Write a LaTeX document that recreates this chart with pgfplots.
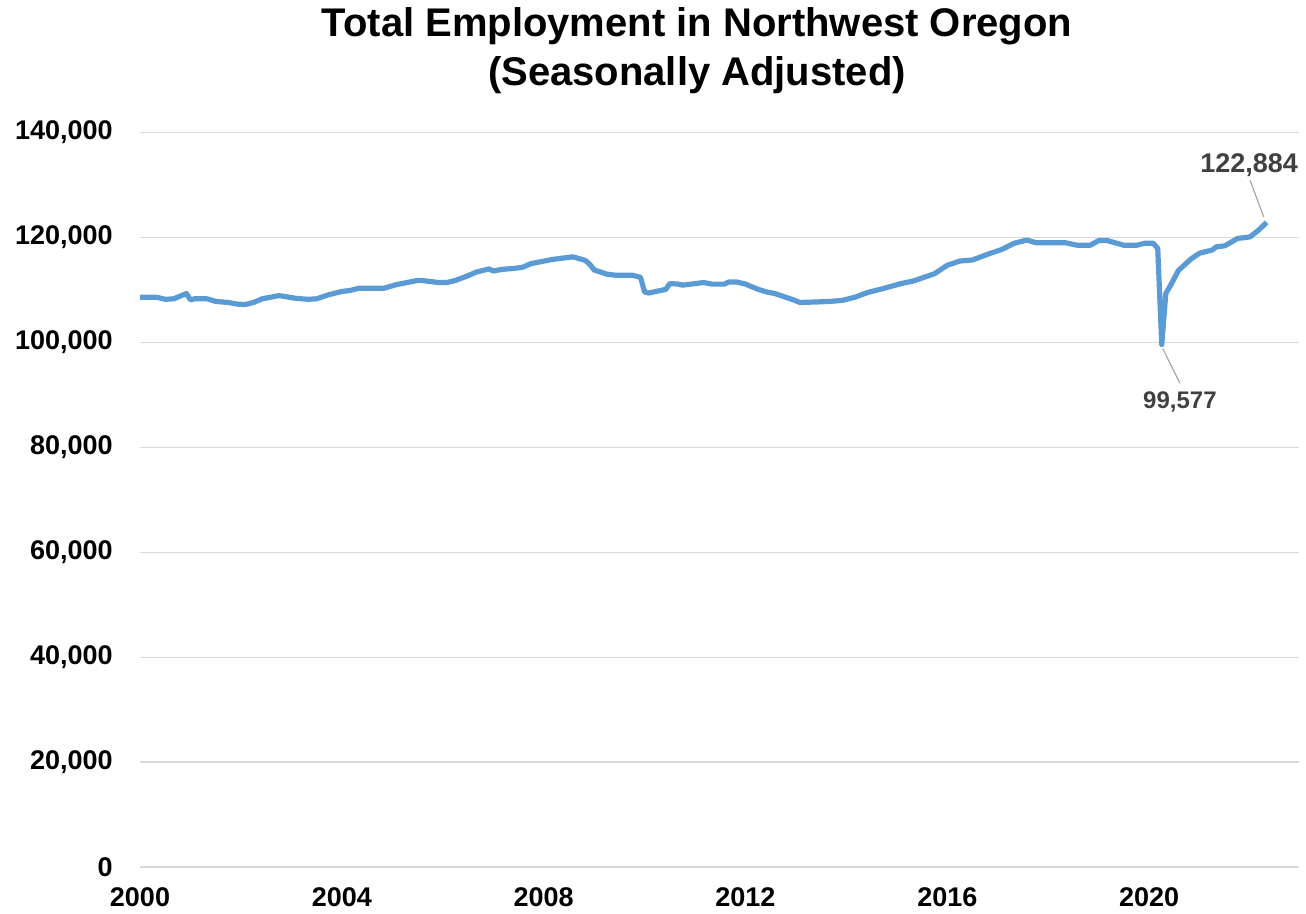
\documentclass[border=0pt]{standalone}
\usepackage{pgfplots}
\pgfplotsset{compat=1.18}
\usepackage{fontspec}
\setmainfont{Liberation Sans}
\definecolor{lineblue}{RGB}{91,155,213}
\definecolor{gridgray}{RGB}{217,217,217}
\definecolor{lblgray}{RGB}{64,64,64}
\pgfplotstableread{
x y
2000.00 108600
2000.33 108600
2000.50 108200
2000.67 108300
2000.92 109300
2001.00 108100
2001.08 108300
2001.33 108300
2001.50 107800
2001.75 107600
2001.92 107300
2002.08 107200
2002.25 107600
2002.42 108300
2002.75 108900
2002.83 108800
2003.08 108400
2003.33 108200
2003.50 108300
2003.75 109100
2004.00 109700
2004.17 109900
2004.33 110300
2004.83 110300
2005.08 111000
2005.50 111800
2005.58 111800
2005.92 111400
2006.08 111400
2006.25 111800
2006.50 112700
2006.67 113400
2006.92 114000
2007.00 113600
2007.17 113900
2007.42 114100
2007.58 114300
2007.75 115000
2008.17 115800
2008.58 116300
2008.83 115600
2008.92 114800
2009.00 113800
2009.25 113000
2009.42 112800
2009.75 112800
2009.92 112400
2010.00 109600
2010.08 109400
2010.42 110100
2010.50 111200
2010.67 111100
2010.75 110900
2010.92 111100
2011.17 111400
2011.33 111100
2011.58 111100
2011.67 111500
2011.83 111500
2012.00 111100
2012.25 110100
2012.42 109600
2012.58 109300
2012.92 108200
2013.08 107600
2013.42 107700
2013.67 107800
2013.92 108000
2014.17 108600
2014.42 109500
2014.75 110300
2015.08 111200
2015.33 111700
2015.75 113100
2016.00 114700
2016.25 115500
2016.50 115700
2016.83 116900
2017.08 117700
2017.33 118900
2017.58 119500
2017.75 119000
2018.33 119000
2018.58 118500
2018.83 118500
2019.00 119400
2019.17 119400
2019.50 118500
2019.75 118500
2019.92 118900
2020.08 118900
2020.17 117900
2020.25 99577
2020.33 109300
2020.42 110800
2020.58 113700
2020.83 115900
2021.00 117000
2021.25 117600
2021.33 118200
2021.50 118400
2021.75 119800
2021.92 120000
2022.00 120100
2022.17 121400
2022.33 122884
}\emp
\begin{document}
\begin{tikzpicture}
\useasboundingbox (0,0) rectangle (653pt,457pt);
\node[anchor=base, font=\fontsize{20}{24}\selectfont\bfseries] at (348.5pt,438.5pt) {Total Employment in Northwest Oregon};
\node[anchor=base, font=\fontsize{20}{24}\selectfont\bfseries] at (348.5pt,414pt) {(Seasonally Adjusted)};
\begin{axis}[
  at={(70pt,23.5pt)}, anchor=south west,
  scale only axis, width=579.5pt, height=367.25pt,
  xmin=2000, xmax=2022.97, ymin=0, ymax=140000,
  axis line style={draw=none},
  major tick length=0pt,
  xtick={2000,2004,2008,2012,2016,2020},
  xticklabels={2000,2004,2008,2012,2016,2020},
  ytick={0,20000,40000,60000,80000,100000,120000,140000},
  yticklabels={0,{20,000},{40,000},{60,000},{80,000},{100,000},{120,000},{140,000}},
  scaled y ticks=false,
  ymajorgrids, major grid style={gridgray, line width=0.6pt},
  ticklabel style={font=\fontsize{13.5}{16}\selectfont\bfseries, text=black},
  yticklabel style={anchor=east, inner sep=0pt, xshift=-13.5pt},
  xticklabel style={anchor=north, inner sep=0pt, yshift=-10pt},
  clip=false,
]
\addplot[lineblue, line width=2.6pt, line join=round] table[x=x,y=y] {\emp};
\draw[gray!70, line width=0.6pt] (axis cs:2020.27,98800) -- (axis cs:2020.61,92200);
\node[anchor=base, text=lblgray, font=\fontsize{12}{14}\selectfont\bfseries] at (axis cs:2020.61,87400) {99,577};
\draw[gray!70, line width=0.6pt] (axis cs:2022.27,123900) -- (axis cs:2022.0,130900);
\node[anchor=base, text=lblgray, font=\fontsize{13.5}{16}\selectfont\bfseries] at (axis cs:2021.98,132400) {122,884};
\end{axis}
\end{tikzpicture}
\end{document}
